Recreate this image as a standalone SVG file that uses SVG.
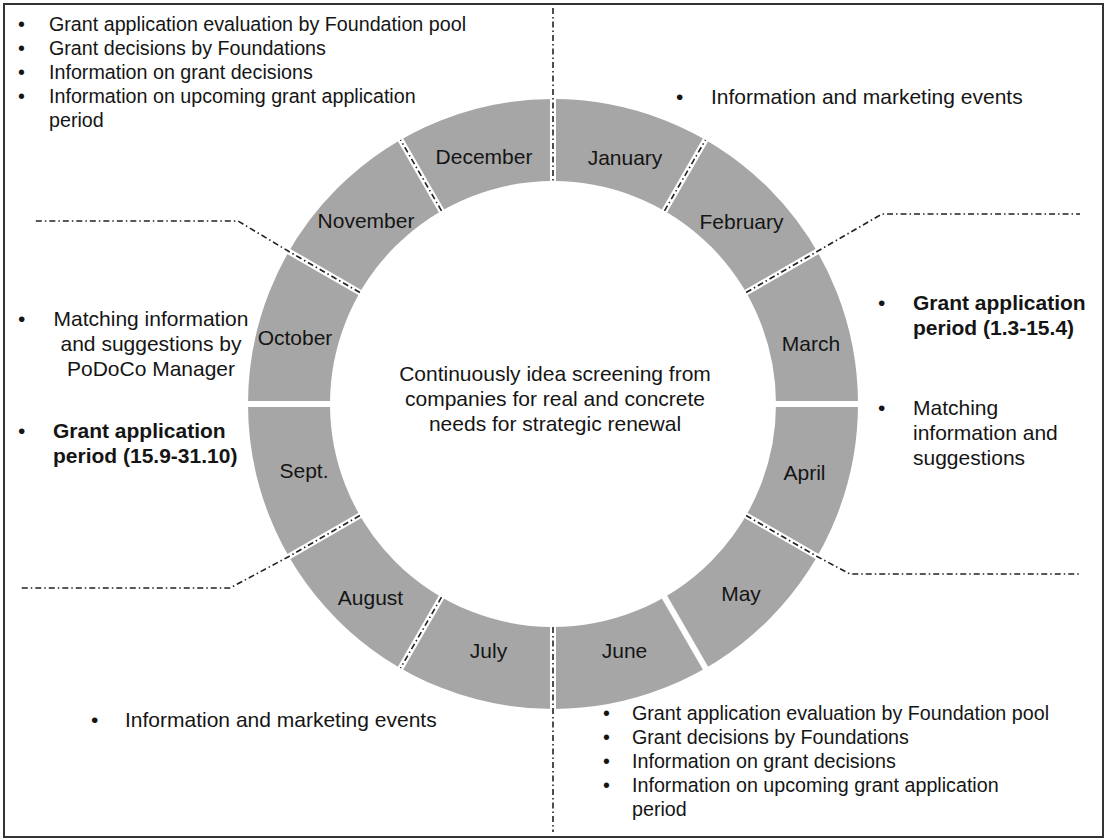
<svg xmlns="http://www.w3.org/2000/svg" width="1107" height="839" viewBox="0 0 1107 839">
<style>
text{font-family:"Liberation Sans",Arial,sans-serif;fill:#151515}
.m{font-size:21px;text-anchor:middle}
.l{font-size:19.7px}
.t{font-size:21px}
.b{font-weight:bold}
.gap{stroke:#fff;stroke-width:6;fill:none}
.dd{stroke:#222;stroke-width:1.6;fill:none;stroke-dasharray:6 3 1.5 3}
</style>
<rect x="0" y="0" width="1107" height="839" fill="#fff"/>
<rect x="4" y="4" width="1099" height="833" fill="none" stroke="#333" stroke-width="2"/>
<g id="ring">
<circle cx="553" cy="404" r="264" fill="none" stroke="#a6a6a6" stroke-width="82"/>
<g class="gap">
<line x1="553" y1="186" x2="553" y2="94"/>
<line x1="662" y1="215.2" x2="708" y2="135.5"/>
<line x1="741.8" y1="295" x2="821.5" y2="249"/>
<line x1="771" y1="404" x2="863" y2="404"/>
<line x1="741.8" y1="513" x2="821.5" y2="559"/>
<line x1="662" y1="592.8" x2="708" y2="672.5"/>
<line x1="553" y1="622" x2="553" y2="714"/>
<line x1="444" y1="592.8" x2="398" y2="672.5"/>
<line x1="364.2" y1="513" x2="284.5" y2="559"/>
<line x1="335" y1="404" x2="243" y2="404"/>
<line x1="364.2" y1="295" x2="284.5" y2="249"/>
<line x1="444" y1="215.2" x2="398" y2="135.5"/>
</g>
</g>
<g id="connectors" class="dd">
<path d="M553 8 L553 181"/>
<path d="M664.5 210.9 L705.5 139.9"/>
<path d="M746.1 292.5 L817.1 251.5 L882 214 L1080 214"/>
<path d="M746.1 515.5 L817.1 556.5 L850 574 L1080 574"/>
<path d="M553 627 L553 832"/>
<path d="M441.5 597.1 L400.5 668.1"/>
<path d="M359.9 515.5 L288.9 556.5 L230 588 L20 588"/>
<path d="M359.9 292.5 L288.9 251.5 L238 221 L33 221"/>
<path d="M441.5 210.9 L400.5 139.9"/>
</g>
<g id="months">
<text class="m" x="625" y="164.5">January</text>
<text class="m" x="741.5" y="228.5">February</text>
<text class="m" x="811" y="350.5">March</text>
<text class="m" x="804.5" y="479.5">April</text>
<text class="m" x="741" y="600.5">May</text>
<text class="m" x="624.5" y="657.5">June</text>
<text class="m" x="488.5" y="657.5">July</text>
<text class="m" x="370.5" y="604.5">August</text>
<text class="m" x="304" y="477.5">Sept.</text>
<text class="m" x="295" y="344.5">October</text>
<text class="m" x="366" y="227.5">November</text>
<text class="m" x="484" y="163.5">December</text>
</g>
<g id="center">
<text class="m" x="555" y="381">Continuously idea screening from</text>
<text class="m" x="555" y="406">companies for real and concrete</text>
<text class="m" x="555" y="431">needs for strategic renewal</text>
</g>
<g id="top-left">
<text class="l" x="18" y="31">•</text><text class="l" x="49" y="31">Grant application evaluation by Foundation pool</text>
<text class="l" x="18" y="55">•</text><text class="l" x="49" y="55">Grant decisions by Foundations</text>
<text class="l" x="18" y="79">•</text><text class="l" x="49" y="79">Information on grant decisions</text>
<text class="l" x="18" y="103">•</text><text class="l" x="49" y="103">Information on upcoming grant application</text>
<text class="l" x="49" y="127">period</text>
</g>
<g id="top-right">
<text class="t" x="676" y="104">•</text><text class="t" x="711" y="104">Information and marketing events</text>
</g>
<g id="left-mid">
<text class="t" x="18" y="326">•</text>
<text class="m" x="151" y="326">Matching information</text>
<text class="m" x="151" y="351">and suggestions by</text>
<text class="m" x="151" y="376">PoDoCo Manager</text>
<text class="t" x="18" y="438">•</text>
<text class="t b" x="53" y="438">Grant application</text>
<text class="t b" x="53" y="463">period (15.9-31.10)</text>
</g>
<g id="right-mid">
<text class="t" x="878" y="310">•</text>
<text class="t b" x="913" y="310">Grant application</text>
<text class="t b" x="913" y="335">period (1.3-15.4)</text>
<text class="t" x="878" y="415">•</text>
<text class="t" x="913" y="415">Matching</text>
<text class="t" x="913" y="440">information and</text>
<text class="t" x="913" y="465">suggestions</text>
</g>
<g id="bottom-left">
<text class="t" x="91" y="727">•</text><text class="t" x="125" y="727">Information and marketing events</text>
</g>
<g id="bottom-right">
<text class="l" x="603" y="720">•</text><text class="l" x="632" y="720">Grant application evaluation by Foundation pool</text>
<text class="l" x="603" y="744">•</text><text class="l" x="632" y="744">Grant decisions by Foundations</text>
<text class="l" x="603" y="768">•</text><text class="l" x="632" y="768">Information on grant decisions</text>
<text class="l" x="603" y="792">•</text><text class="l" x="632" y="792">Information on upcoming grant application</text>
<text class="l" x="632" y="816">period</text>
</g>
</svg>
